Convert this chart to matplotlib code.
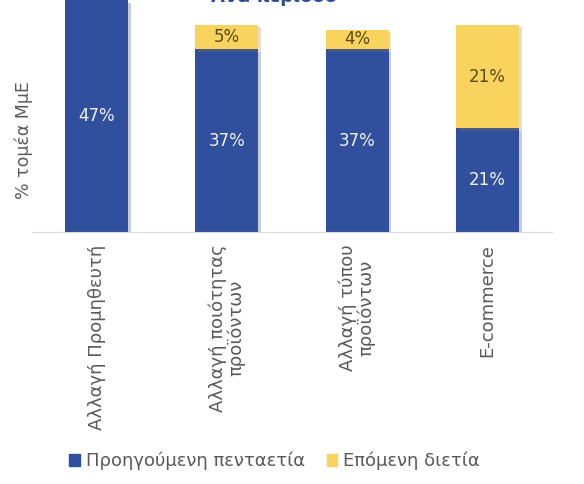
import matplotlib
matplotlib.use("Agg")
import matplotlib.pyplot as plt
import matplotlib.patheffects as pe
from matplotlib.patches import Patch
import numpy as np

# Data
categories = ["Αλλαγή Προμηθευτή", "Αλλαγή ποιότητας\nπροϊόντων",
              "Αλλαγή τύπου\nπροϊόντων", "E-commerce"]
previous_5y = [47, 37, 37, 21]
next_2y = [0, 5, 4, 21]
series_names = ["Προηγούμενη πενταετία", "Επόμενη διετία"]

blue = "#30509E"
yellow = "#F8D45E"
grey_text = "#595959"
plt.rcParams["font.family"] = ["DejaVu Sans"]

fig = plt.figure(figsize=(5.84, 4.84), dpi=100)
ax = fig.add_axes([0.054, 0.5207, 0.892, 0.4793])

x = np.arange(len(categories))
width = 0.485
shadow = [pe.SimplePatchShadow(offset=(2, -2), alpha=0.25, rho=0.6), pe.Normal()]

ax.bar(x, previous_5y, width, color=blue, path_effects=shadow)
ax.bar(x, next_2y, width, bottom=previous_5y, color=yellow, path_effects=shadow)

for i in range(len(x)):
    ax.text(x[i], previous_5y[i] / 2, f"{previous_5y[i]}%", ha="center", va="center",
            color="#F2F2F2", fontsize=12)
    if next_2y[i] > 0:
        ax.text(x[i], previous_5y[i] + next_2y[i] / 2, f"{next_2y[i]}%", ha="center",
                va="center", color="#5A4A14", fontsize=12)

ax.set_xlim(-0.5, 3.5)
ax.set_ylim(0, 47)
ax.set_xticks(x)
ax.set_xticklabels(categories, rotation=90, color=grey_text, fontsize=13, va="top",
                   ha="center", multialignment="center", linespacing=1.0)
ax.tick_params(axis="x", length=0, pad=9)
ax.set_yticks([])
for s in ["top", "right", "left"]:
    ax.spines[s].set_visible(False)
ax.spines["bottom"].set_color("#D9D9D9")

fig.text(0.04, 0.71, "% τομέα ΜμΕ", rotation=90, ha="center", va="center",
         color=grey_text, fontsize=12.5)

# title, mostly above the visible area
fig.text(0.47, 1 - 2 / 484, "Ανά περίοδο", ha="center", va="baseline",
         color="#2E4A9A", fontsize=13, fontweight="bold")

handles = [Patch(color=blue), Patch(color=yellow)]
fig.legend(handles=handles, labels=series_names, loc="lower center",
           bbox_to_anchor=(0.47, -0.005), ncol=2, frameon=False, fontsize=13,
           handlelength=0.6, handleheight=0.6, handletextpad=0.3, columnspacing=1.2,
           labelcolor=grey_text)

fig.savefig("out.png", dpi=100)
